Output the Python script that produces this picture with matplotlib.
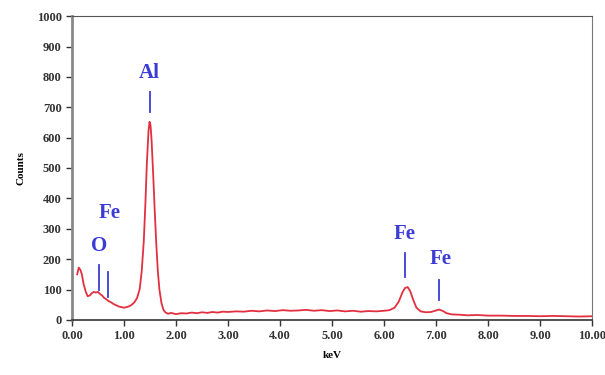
import matplotlib
matplotlib.use('Agg')
import matplotlib.pyplot as plt

# EDS spectrum
kev = [0.10, 0.13, 0.16, 0.19, 0.22, 0.26, 0.30, 0.34, 0.38, 0.42, 0.46, 0.50,
       0.54, 0.58, 0.62, 0.66, 0.70, 0.75, 0.80, 0.85, 0.90, 0.95, 1.00, 1.05,
       1.10, 1.15, 1.20, 1.25, 1.30, 1.34, 1.38, 1.41, 1.44, 1.47, 1.49, 1.51,
       1.53, 1.56, 1.59, 1.62, 1.65, 1.68, 1.72, 1.76, 1.80, 1.85, 1.90, 2.00,
       2.10, 2.20, 2.30, 2.40, 2.50, 2.60, 2.70, 2.80, 2.90, 3.00, 3.15, 3.30,
       3.45, 3.60, 3.75, 3.90, 4.05, 4.20, 4.35, 4.50, 4.65, 4.80, 4.95, 5.10,
       5.25, 5.40, 5.55, 5.70, 5.85, 6.00, 6.10, 6.20, 6.28, 6.35, 6.40, 6.45,
       6.50, 6.56, 6.62, 6.70, 6.80, 6.90, 6.98, 7.05, 7.12, 7.20, 7.30, 7.45,
       7.60, 7.80, 8.00, 8.25, 8.50, 8.75, 9.00, 9.25, 9.50, 9.75, 10.00]
counts = [150, 172, 165, 150, 120, 95, 78, 80, 88, 92, 90, 92,
          85, 80, 72, 68, 62, 58, 52, 48, 44, 42, 40, 42,
          45, 50, 58, 72, 100, 160, 260, 380, 520, 620, 652, 640,
          590, 480, 360, 250, 160, 100, 55, 32, 24, 20, 23, 19,
          22, 21, 24, 22, 25, 23, 26, 24, 27, 26, 28, 27,
          30, 28, 31, 29, 32, 30, 31, 33, 30, 32, 29, 31,
          28, 30, 27, 29, 28, 30, 32, 40, 60, 90, 105, 108,
          95, 65, 40, 28, 25, 26, 30, 34, 30, 22, 18, 17,
          15, 16, 14, 14, 13, 13, 12, 13, 12, 11, 12]

# peak markers
labels = ['Al', 'O', 'Fe', 'Fe', 'Fe']
label_x = [1.48, 0.52, 0.72, 6.40, 7.08]
mark_x = [1.49, 0.52, 0.70, 6.40, 7.06]
mark_lo = [684, 100, 75, 141, 66]
mark_hi = [750, 180, 158, 220, 131]
label_y = [780, 210, 320, 250, 168]

blue = '#3b3bd6'
plt.rcParams['font.family'] = ['Liberation Serif', 'DejaVu Serif']

fig = plt.figure(figsize=(6.05, 3.75), dpi=100)
ax = fig.add_axes([0.119, 0.147, 0.860, 0.810])

ax.plot(kev, counts, color='#e23040', lw=1.3)

for x, lo, hi in zip(mark_x, mark_lo, mark_hi):
    ax.plot([x, x], [lo, hi], color=blue, lw=1.3)
for t, x, y in zip(labels, label_x, label_y):
    ax.text(x, y, t, color=blue, fontsize=15, fontweight='bold', ha='center', va='bottom')

ax.set_xlim(0, 10)
ax.set_ylim(0, 1000)
ax.set_xticks(range(0, 11))
ax.set_xticklabels(['%.2f' % v for v in range(0, 11)], fontsize=9, fontweight='bold')
ax.set_yticks(range(0, 1001, 100))
ax.set_yticklabels([str(v) for v in range(0, 1001, 100)], fontsize=9, fontweight='bold')
ax.tick_params(direction='out', length=4, width=1, colors='#333333')
ax.set_xlabel('keV', fontsize=8, fontweight='bold', labelpad=6)
ax.set_ylabel('Counts', fontsize=8, fontweight='bold', labelpad=8)

ax.spines['left'].set_color('#888888')
ax.spines['left'].set_linewidth(2)
ax.spines['bottom'].set_color('#333333')
ax.spines['bottom'].set_linewidth(1.2)
ax.spines['top'].set_color('#555555')
ax.spines['right'].set_color('#777777')

fig.savefig('out.png', dpi=100)
